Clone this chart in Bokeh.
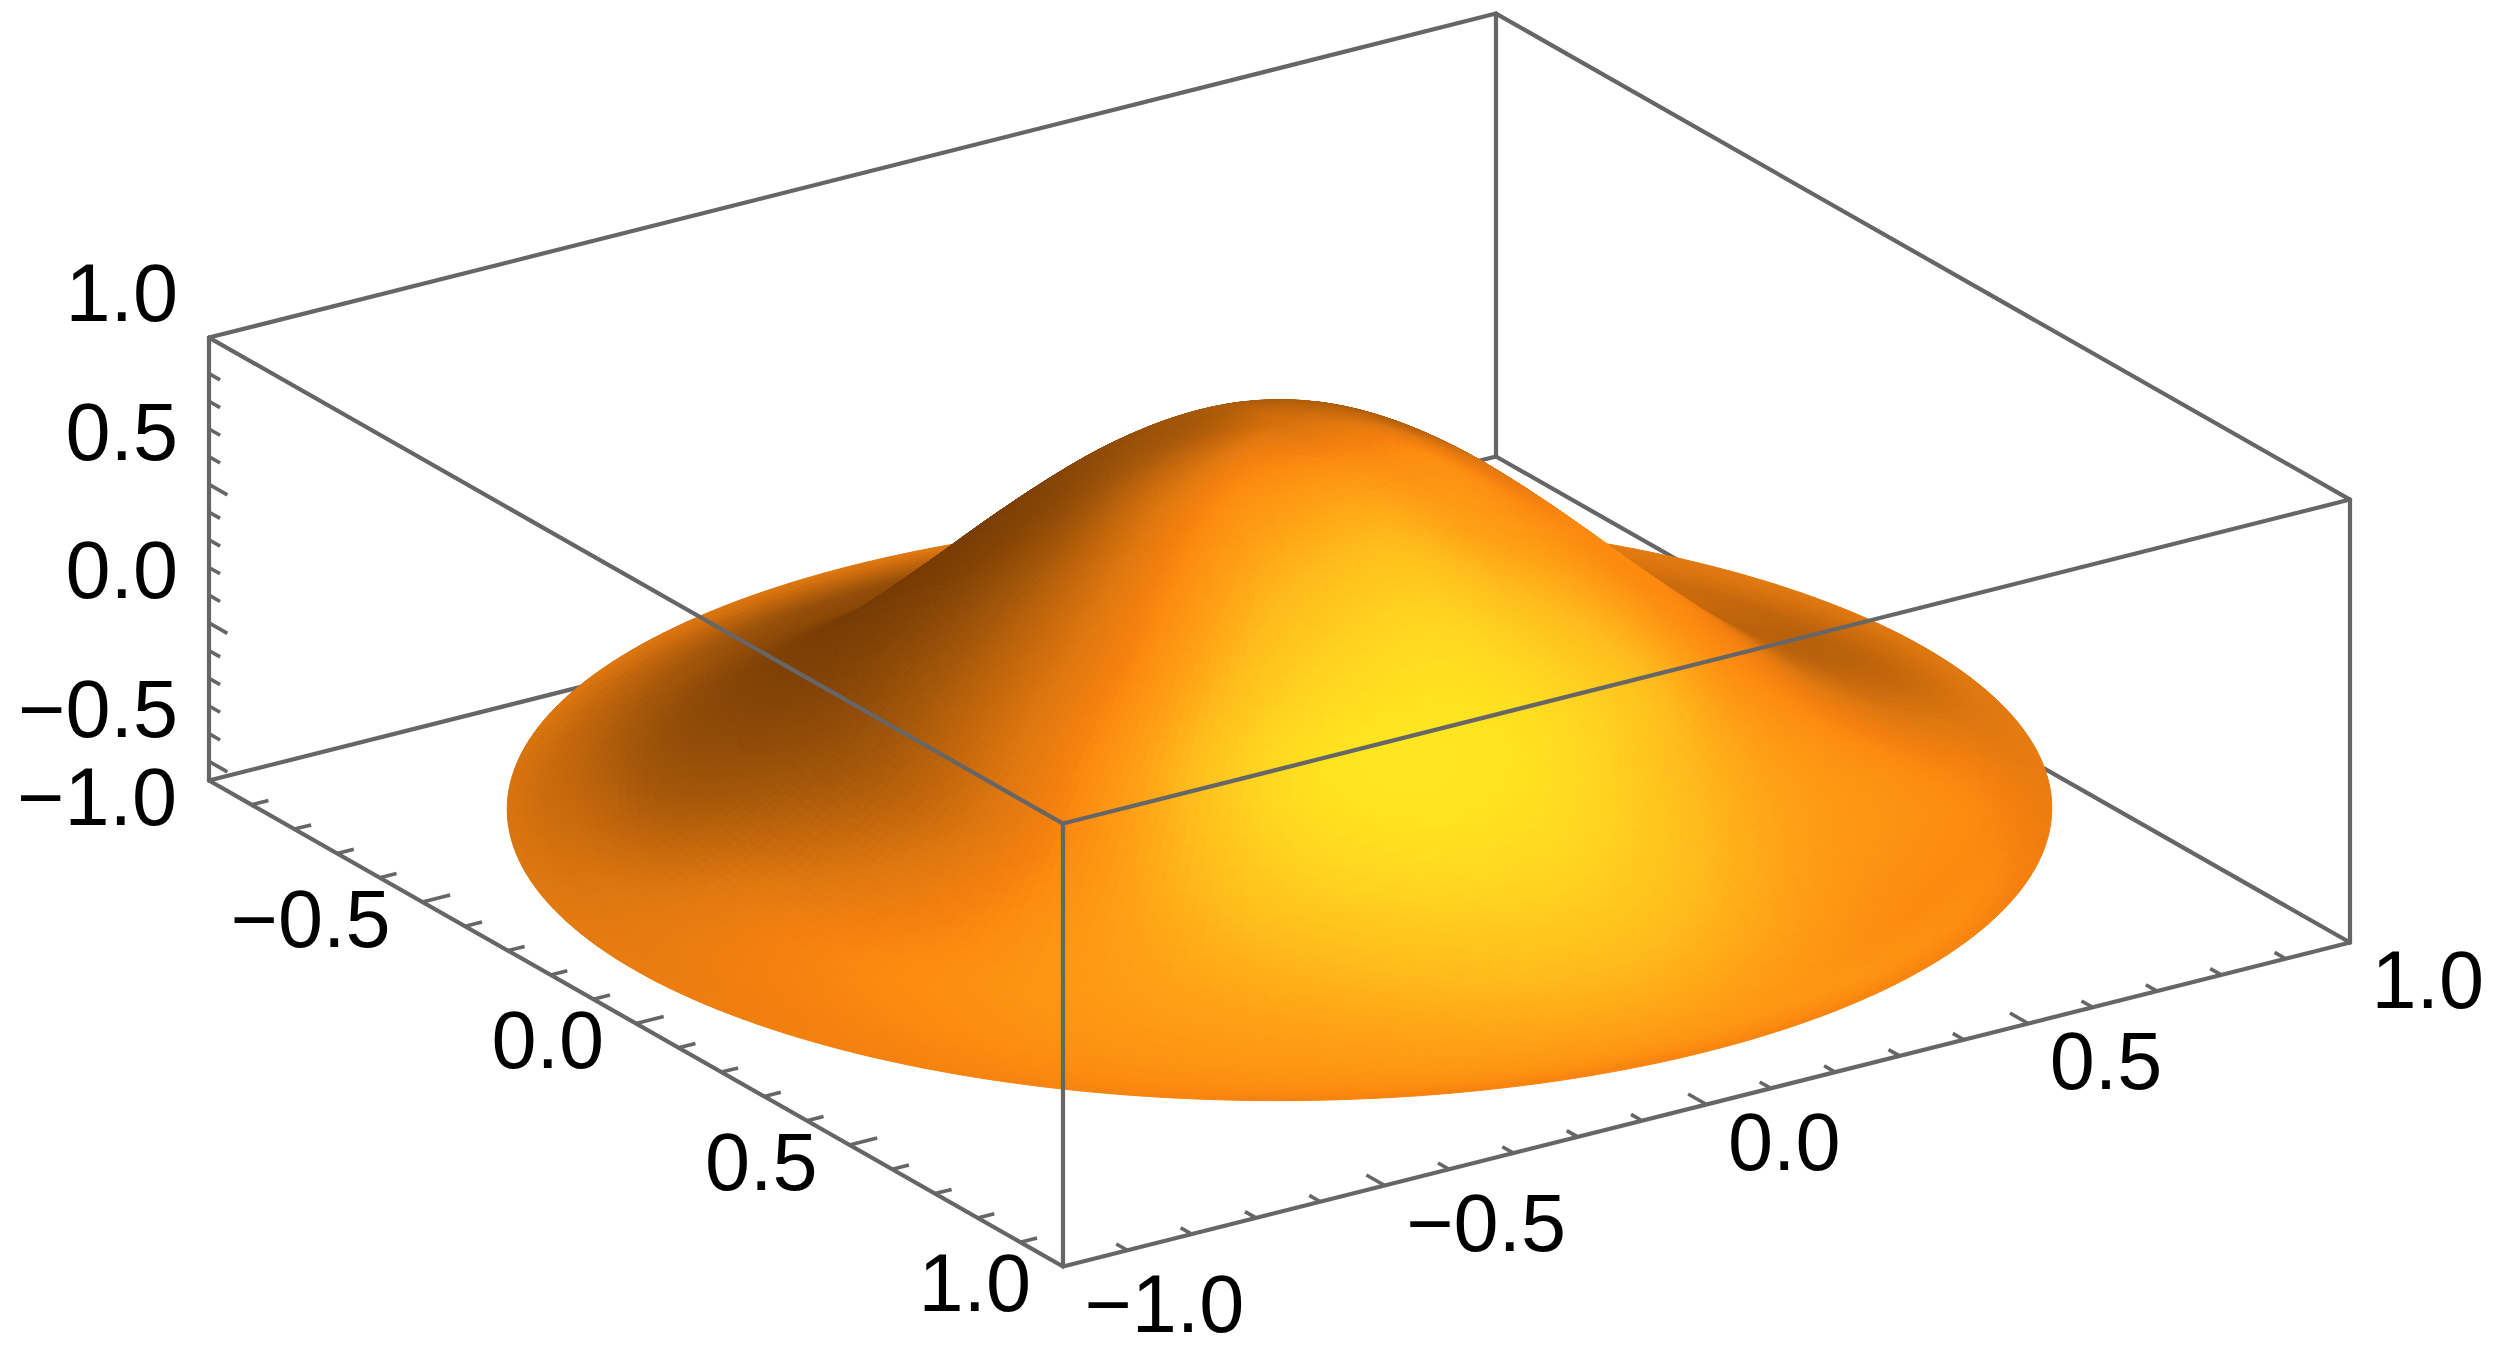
import numpy as np
from bokeh.plotting import figure
from bokeh.models import Range1d, ColumnDataSource
from bokeh.core.properties import value
from bokeh.embed import file_html
from bokeh.resources import INLINE

# --- chart values -------------------------------------------------------
x_major = [-1.0, -0.5, 0.0, 0.5, 1.0]
y_major = [-1.0, -0.5, 0.0, 0.5, 1.0]
z_major = [-0.5, 0.0, 0.5, 1.0]
x_labels = ["\u22121.0", "\u22120.5", "0.0", "0.5", "1.0"]
y_labels = ["\u22121.0", "\u22120.5", "0.0", "0.5", "1.0"]
z_labels = ["\u22120.5", "0.0", "0.5", "1.0"]
x_minor = [-0.9, -0.8, -0.7, -0.6, -0.4, -0.3, -0.2, -0.1, 0.1, 0.2, 0.3, 0.4, 0.6, 0.7, 0.8, 0.9]
y_minor = [-0.9, -0.8, -0.7, -0.6, -0.4, -0.3, -0.2, -0.1, 0.1, 0.2, 0.3, 0.4, 0.6, 0.7, 0.8, 0.9]
z_minor = [-0.4, -0.3, -0.2, -0.1, 0.1, 0.2, 0.3, 0.4, 0.6, 0.7, 0.8, 0.9]
z_box = [-0.569, 1.03]

# surface height against radius
radius = [0.00, 0.05, 0.10, 0.15, 0.20, 0.25, 0.30, 0.35, 0.40, 0.45, 0.50,
          0.55, 0.60, 0.65, 0.70, 0.75, 0.80, 0.85, 0.90, 0.95, 1.00]
height = [1.015, 1.006, 0.981, 0.940, 0.880, 0.806, 0.720, 0.622, 0.517, 0.407, 0.293,
          0.182, 0.074, -0.029, -0.122, -0.204, -0.271, -0.322, -0.356, -0.374, -0.378]

# brightness of the surface (0 dark brown, 1 yellow) by radius and azimuth
shade_r = [0.0, 0.1, 0.2, 0.3, 0.4, 0.5, 0.6, 0.7, 0.8, 0.9, 0.95, 1.0]
shade_az = [0, 30, 60, 90, 120, 150, 180, 210, 240, 270, 300, 330]
shade = [
    [.35, .35, .35, .35, .35, .35, .35, .35, .35, .35, .35, .35],
    [.33, .42, .46, .48, .48, .44, .33, .24, .22, .25, .25, .27],
    [.28, .50, .55, .64, .60, .49, .32, .17, .15, .20, .18, .20],
    [.35, .50, .62, .80, .72, .50, .28, .08, .08, .15, .18, .25],
    [.47, .52, .72, .93, .84, .50, .26, .05, .02, .10, .20, .35],
    [.50, .52, .78, .98, .95, .52, .25, .05, .00, .05, .20, .40],
    [.45, .50, .70, .93, .88, .50, .24, .06, .00, .00, .20, .45],
    [.30, .50, .63, .82, .74, .52, .33, .12, .02, .02, .20, .40],
    [.26, .50, .56, .70, .63, .53, .42, .20, .08, .08, .20, .38],
    [.27, .48, .50, .60, .56, .50, .43, .30, .20, .12, .25, .33],
    [.32, .44, .52, .55, .52, .48, .42, .33, .28, .25, .33, .36],
    [.38, .42, .47, .47, .47, .47, .42, .36, .37, .38, .42, .40],
]
ramp_level = [0.0, 0.2, 0.3, 0.38, 0.46, 0.5, 0.6, 0.72, 0.85, 1.0]
ramp_rgb = [(120, 60, 5), (165, 88, 10), (198, 104, 12), (223, 120, 16), (245, 128, 15),
            (252, 140, 16), (255, 160, 21), (255, 187, 28), (255, 208, 32), (255, 230, 32)]

# --- projection of the box onto the page ---------------------------------
CX, CY = 1279.0, 861.0
XV = (643.5, -162.0)
YV = (427.0, 243.0)
ZV = -277.0

def proj(x, y, z):
    x, y, z = np.asarray(x, float), np.asarray(y, float), np.asarray(z, float)
    return CX + XV[0] * x + YV[0] * y, CY + XV[1] * x + YV[1] * y + ZV * (z - z_box[0])

def cr(p0, p1, p2, p3, t):
    return 0.5 * (2 * p1 + (p2 - p0) * t + (2 * p0 - 5 * p1 + 4 * p2 - p3) * t ** 2 + (3 * p1 - p0 - 3 * p2 + p3) * t ** 3)

def prof(r):
    h = np.array(height)
    u = np.clip(np.asarray(r) / 0.05, 0, len(h) - 1 - 1e-9)
    i = u.astype(int)
    t = u - i
    g = lambda k: h[np.clip(k, 0, len(h) - 1)]
    return cr(g(i - 1), g(i), g(i + 1), g(i + 2), t)

S = np.array(shade)

def level(r, az):
    u = np.interp(r, shade_r, np.arange(len(shade_r)))
    u = np.clip(u, 0, len(shade_r) - 1 - 1e-9)
    i = u.astype(int)
    t = u - i
    v = (az % 360) / 30.0
    j = v.astype(int)
    s = v - j
    def col(ri):
        ri = np.clip(ri, 0, S.shape[0] - 1)
        return cr(S[ri, (j - 1) % 12], S[ri, j % 12], S[ri, (j + 1) % 12], S[ri, (j + 2) % 12], s)
    return np.clip(cr(col(i - 1), col(i), col(i + 1), col(i + 2), t), 0, 1)

def ramp(l):
    return [np.interp(l, ramp_level, [c[k] for c in ramp_rgb]) for k in range(3)]

# --- surface mesh --------------------------------------------------------
NR, NA = 90, 260
re = np.linspace(0, 1, NR + 1)
ae = np.linspace(0, 360, NA + 1)
R0, A0 = np.meshgrid(re[:-1], ae[:-1], indexing="ij")
R1, A1 = np.meshgrid(re[1:], ae[1:], indexing="ij")
corners = [(R0, A0), (R1, A0), (R1, A1), (R0, A1)]
sx, sy = [], []
for rr, aa in corners:
    u, v = proj(rr * np.cos(np.radians(aa)), rr * np.sin(np.radians(aa)), prof(rr))
    sx.append(u); sy.append(v)
sx = np.array(sx); sy = np.array(sy)
area = 0.5 * np.sum(sx * np.roll(sy, -1, axis=0) - np.roll(sx, -1, axis=0) * sy, axis=0)
RM, AM = 0.5 * (R0 + R1), 0.5 * (A0 + A1)
xm, ym = RM * np.cos(np.radians(AM)), RM * np.sin(np.radians(AM))
depth = -1.0 * xm + 1.505 * ym + 0.285 * prof(RM)
keep = area > 0 if np.median(area) > 0 else area < 0
order = np.argsort(depth[keep], axis=None)
lv = level(RM, AM)[keep][order]
rgb = ramp(lv)
cols = ["#%02x%02x%02x" % (int(a), int(b), int(c)) for a, b, c in zip(*[np.round(q) for q in rgb])]
xs = [list(np.round(c, 2)) for c in sx[:, keep].T[order]]
ys = [list(np.round(c, 2)) for c in sy[:, keep].T[order]]

# --- figure ----------------------------------------------------------------
p = figure(width=2500, height=1352, x_range=Range1d(0, 2500), y_range=Range1d(1352, 0),
           x_axis_type=None, y_axis_type=None, toolbar_location=None, output_backend="svg",
           min_border=0, outline_line_color=None, background_fill_color="white", border_fill_color="white")
p.grid.visible = False

LINE = "#666666"
LW = 4.2

def edge(a, b):
    u, v = proj([a[0], b[0]], [a[1], b[1]], [a[2], b[2]])
    p.line(u, v, line_color=LINE, line_width=LW, line_cap="round")

lo, hi = z_box
# edges behind the surface
edge((-1, -1, hi), (1, -1, hi))
edge((1, -1, hi), (1, 1, hi))
edge((1, -1, hi), (1, -1, lo))
edge((-1, -1, lo), (1, -1, lo))
edge((1, -1, lo), (1, 1, lo))

p.patches(xs="xs", ys="ys", fill_color="c", line_color="c", line_width=1.0,
          source=ColumnDataSource(dict(xs=xs, ys=ys, c=cols)))

# edges in front of the surface
edge((-1, -1, hi), (-1, 1, hi))
edge((-1, 1, hi), (1, 1, hi))
edge((-1, -1, hi), (-1, -1, lo))
edge((-1, 1, hi), (-1, 1, lo))
edge((1, 1, hi), (1, 1, lo))
edge((-1, -1, lo), (-1, 1, lo))
edge((-1, 1, lo), (1, 1, lo))

MAJ, MIN = 0.043, 0.026
def ticks(points, vec, length):
    for q in points:
        u, v = proj([q[0], q[0] + vec[0] * length], [q[1], q[1] + vec[1] * length], [q[2], q[2]])
        p.line(u, v, line_color=LINE, line_width=3.6)

ticks([(t, 1, lo) for t in x_major[1:-1]], (0, -1), MAJ)
ticks([(t, 1, lo) for t in x_minor], (0, -1), MIN)
ticks([(-1, t, lo) for t in y_major[1:-1]], (1, 0), MAJ)
ticks([(-1, t, lo) for t in y_minor], (1, 0), MIN)
ticks([(-1, -1, t) for t in z_major[:-1]], (0, 1), MAJ)
ticks([(-1, -1, t) for t in z_minor], (0, 1), MIN)

FONT = value("Liberation Sans")
SIZE = "81px"
def labels(u, v, txt, align):
    p.text(x=list(u), y=list(v), text=txt, text_font=FONT, text_font_size=SIZE, text_color="black",
           text_align=align, text_baseline="middle")

u, v = proj(x_major, [1] * 5, [lo] * 5)
labels(u + 21.5, v + 37, x_labels, "left")
u, v = proj([-1] * 5, y_major, [lo] * 5)
labels(u - 32, v + 16, y_labels, "right")
u, v = proj([-1] * 4, [-1] * 4, z_major)
labels(u - 31, v - 53, z_labels, "right")

open("out.html", "w").write(file_html(p, INLINE))
